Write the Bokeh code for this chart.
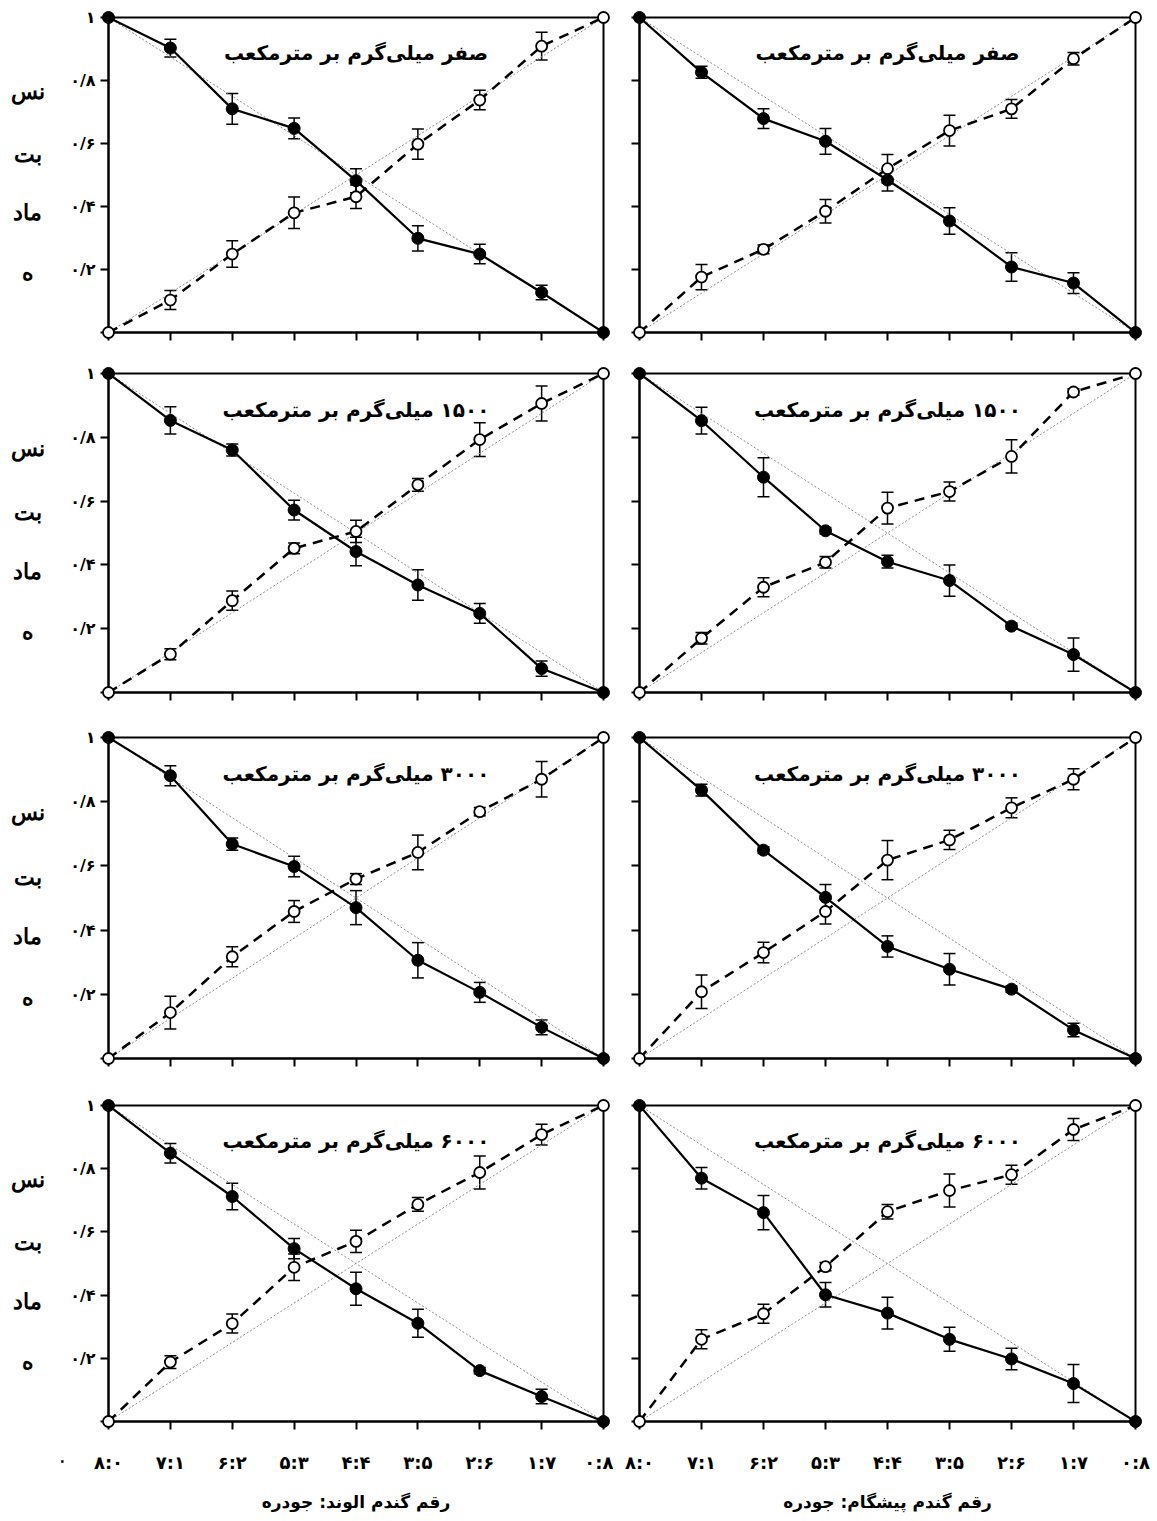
from bokeh.plotting import figure
from bokeh.models import Range1d, FixedTicker, Whisker, TeeHead, ColumnDataSource, Label
from bokeh.layouts import gridplot
from bokeh.embed import file_html
from bokeh.resources import INLINE

# ---------------- data ----------------
ratios = ["۸:۰", "۷:۱", "۶:۲", "۵:۳", "۴:۴", "۳:۵", "۲:۶", "۱:۷", "۰:۸"]
y_ticks = [0, 0.2, 0.4, 0.6, 0.8, 1]
y_tick_labels = ["", "۰/۲", "۰/۴", "۰/۶", "۰/۸", "۱"]
doses = ["صفر", "۱۵۰۰", "۳۰۰۰", "۶۰۰۰"]
unit = "میلی‌گرم بر مترمکعب"
cultivar_titles = ["رقم گندم الوند: جودره", "رقم گندم پیشگام: جودره"]
y_title_parts = ["نس", "بت", "ماد", "ه"]
zero_label = "۰"
diag_x = [0, 8]
diag_up = [0, 1]
diag_down = [1, 0]

# Alvand (left column)
alvand_wheat_0 = [1, 0.903, 0.710, 0.648, 0.482, 0.299, 0.249, 0.127, 0]
alvand_wheat_0_err = [0, 0.028, 0.049, 0.033, 0.038, 0.040, 0.031, 0.023, 0]
alvand_barley_0 = [0, 0.103, 0.249, 0.380, 0.431, 0.598, 0.738, 0.909, 1]
alvand_barley_0_err = [0, 0.030, 0.042, 0.050, 0.037, 0.048, 0.031, 0.044, 0]

alvand_wheat_1500 = [1, 0.853, 0.760, 0.572, 0.442, 0.337, 0.248, 0.075, 0]
alvand_wheat_1500_err = [0, 0.043, 0.019, 0.031, 0.045, 0.048, 0.031, 0.024, 0]
alvand_barley_1500 = [0, 0.120, 0.288, 0.452, 0.505, 0.651, 0.793, 0.906, 1]
alvand_barley_1500_err = [0, 0.017, 0.030, 0.017, 0.035, 0.020, 0.053, 0.055, 0]

alvand_wheat_3000 = [1, 0.881, 0.668, 0.598, 0.470, 0.306, 0.206, 0.097, 0]
alvand_wheat_3000_err = [0, 0.031, 0.019, 0.032, 0.053, 0.055, 0.031, 0.023, 0]
alvand_barley_3000 = [0, 0.143, 0.317, 0.458, 0.559, 0.642, 0.769, 0.870, 1]
alvand_barley_3000_err = [0, 0.051, 0.031, 0.034, 0.017, 0.054, 0.013, 0.055, 0]

alvand_wheat_6000 = [1, 0.849, 0.712, 0.547, 0.420, 0.311, 0.161, 0.079, 0]
alvand_wheat_6000_err = [0, 0.031, 0.042, 0.032, 0.052, 0.044, 0.010, 0.023, 0]
alvand_barley_6000 = [0, 0.188, 0.310, 0.488, 0.570, 0.687, 0.788, 0.908, 1]
alvand_barley_6000_err = [0, 0.020, 0.030, 0.042, 0.035, 0.022, 0.052, 0.033, 0]

# Pishgam (right column)
pishgam_wheat_0 = [1, 0.826, 0.679, 0.607, 0.484, 0.354, 0.208, 0.157, 0]
pishgam_wheat_0_err = [0, 0.019, 0.031, 0.041, 0.035, 0.042, 0.045, 0.033, 0]
pishgam_barley_0 = [0, 0.176, 0.264, 0.385, 0.520, 0.641, 0.710, 0.869, 1]
pishgam_barley_0_err = [0, 0.040, 0.014, 0.037, 0.045, 0.049, 0.030, 0.020, 0]

pishgam_wheat_1500 = [1, 0.852, 0.675, 0.507, 0.410, 0.351, 0.208, 0.119, 0]
pishgam_wheat_1500_err = [0, 0.042, 0.061, 0.010, 0.020, 0.049, 0.010, 0.052, 0]
pishgam_barley_1500 = [0, 0.170, 0.330, 0.408, 0.578, 0.630, 0.740, 0.942, 1]
pishgam_barley_1500_err = [0, 0.018, 0.030, 0.018, 0.050, 0.030, 0.052, 0.010, 0]

pishgam_wheat_3000 = [1, 0.836, 0.649, 0.502, 0.349, 0.278, 0.216, 0.089, 0]
pishgam_wheat_3000_err = [0, 0.018, 0.010, 0.040, 0.033, 0.049, 0.010, 0.021, 0]
pishgam_barley_3000 = [0, 0.208, 0.330, 0.458, 0.618, 0.681, 0.781, 0.870, 1]
pishgam_barley_3000_err = [0, 0.052, 0.032, 0.039, 0.061, 0.030, 0.031, 0.033, 0]

pishgam_wheat_6000 = [1, 0.770, 0.661, 0.401, 0.343, 0.260, 0.198, 0.120, 0]
pishgam_wheat_6000_err = [0, 0.034, 0.054, 0.039, 0.050, 0.038, 0.034, 0.060, 0]
pishgam_barley_6000 = [0, 0.260, 0.341, 0.490, 0.664, 0.731, 0.781, 0.924, 1]
pishgam_barley_6000_err = [0, 0.030, 0.030, 0.013, 0.023, 0.052, 0.030, 0.035, 0]

panels = [
    [(alvand_wheat_0, alvand_wheat_0_err, alvand_barley_0, alvand_barley_0_err),
     (pishgam_wheat_0, pishgam_wheat_0_err, pishgam_barley_0, pishgam_barley_0_err)],
    [(alvand_wheat_1500, alvand_wheat_1500_err, alvand_barley_1500, alvand_barley_1500_err),
     (pishgam_wheat_1500, pishgam_wheat_1500_err, pishgam_barley_1500, pishgam_barley_1500_err)],
    [(alvand_wheat_3000, alvand_wheat_3000_err, alvand_barley_3000, alvand_barley_3000_err),
     (pishgam_wheat_3000, pishgam_wheat_3000_err, pishgam_barley_3000, pishgam_barley_3000_err)],
    [(alvand_wheat_6000, alvand_wheat_6000_err, alvand_barley_6000, alvand_barley_6000_err),
     (pishgam_wheat_6000, pishgam_wheat_6000_err, pishgam_barley_6000, pishgam_barley_6000_err)],
]

# ---------------- layout / style ----------------
FONT = "DejaVu Sans"
RLM = "\u200f"
xs = list(range(len(ratios)))

# per row: (border top, frame height, border bottom)
row_geom = [(17, 315, 23), (18, 319, 23), (22, 321, 22), (25, 323, 86)]
TEXT_W = 67
LEFT_BL, LEFT_BR = 40, 10
RIGHT_BL, RIGHT_BR = 26, 18
FRAME_W = 496
y_title_pos = [0.765, 0.565, 0.38, 0.19]


def text_column(row):
    top, fh, bot = row_geom[row]
    p = figure(width=TEXT_W, height=top + fh + bot, output_backend="svg", toolbar_location=None,
               x_range=Range1d(0, TEXT_W), y_range=Range1d(0, 1),
               x_axis_location=None, y_axis_location=None,
               min_border_left=0, min_border_right=0,
               min_border_top=top, min_border_bottom=bot)
    p.grid.visible = False
    p.outline_line_color = None
    p.background_fill_color = "white"
    p.border_fill_color = "white"
    p.text(x=[27] * len(y_title_parts), y=y_title_pos, text=y_title_parts,
           text_align="center", text_baseline="middle",
           text_font=FONT, text_font_style="bold", text_font_size="22px", text_color="black",
           level="overlay")
    if row == 3:
        p.text(x=[62], y=[-40 / fh], text=[zero_label], text_align="center", text_baseline="middle",
               text_font=FONT, text_font_style="bold", text_font_size="16px", text_color="black",
               level="overlay")
    return p


def make_panel(row, col, wheat, wheat_err, barley, barley_err):
    top, fh, bot = row_geom[row]
    bottom = row == 3
    left = col == 0
    bl, br = (LEFT_BL, LEFT_BR) if left else (RIGHT_BL, RIGHT_BR)
    p = figure(width=bl + FRAME_W + br, height=top + fh + bot, output_backend="svg",
               toolbar_location=None, x_range=Range1d(0, 8), y_range=Range1d(0, 1),
               min_border_left=bl, min_border_right=br,
               min_border_top=top, min_border_bottom=bot)
    p.grid.visible = False
    p.outline_line_color = "black"
    p.outline_line_width = 2
    p.background_fill_color = "white"
    p.border_fill_color = "white"

    p.xaxis.ticker = FixedTicker(ticks=xs)
    p.xaxis.major_label_overrides = {i: (ratios[i] if bottom else "") for i in xs}
    p.yaxis.ticker = FixedTicker(ticks=y_ticks)
    p.yaxis.major_label_overrides = {t: (lab if left else "") for t, lab in zip(y_ticks, y_tick_labels)}
    for ax in (p.xaxis[0], p.yaxis[0]):
        ax.axis_line_width = 2
        ax.axis_line_color = "black"
        ax.major_tick_line_width = 2
        ax.major_tick_line_color = "black"
        ax.major_tick_out = 8
        ax.major_tick_in = 0
        ax.minor_tick_line_color = None
        ax.major_label_text_font = FONT
        ax.major_label_text_font_style = "bold"
        ax.major_label_text_color = "black"
    p.xaxis.major_label_text_font_size = "18px"
    p.xaxis.major_label_standoff = 22
    p.yaxis.major_label_text_font_size = "16px"
    p.yaxis.major_label_standoff = 5
    if bottom:
        p.xaxis.axis_label = cultivar_titles[col]
        p.xaxis.axis_label_text_font = FONT
        p.xaxis.axis_label_text_font_style = "bold"
        p.xaxis.axis_label_text_font_size = "17px"
        p.xaxis.axis_label_text_color = "black"
        p.xaxis.axis_label_standoff = 16

    p.line(diag_x, diag_up, line_color="#8c8c8c", line_width=1, line_dash="2 2")
    p.line(diag_x, diag_down, line_color="#8c8c8c", line_width=1, line_dash="2 2")

    p.line(xs, barley, line_color="black", line_width=2.5, line_dash="10 7")
    p.line(xs, wheat, line_color="black", line_width=2.2)

    for vals, errs in ((wheat, wheat_err), (barley, barley_err)):
        inner = range(1, len(xs) - 1)
        src = ColumnDataSource(dict(
            x=[xs[i] for i in inner],
            upper=[vals[i] + errs[i] for i in inner],
            lower=[vals[i] - errs[i] for i in inner],
        ))
        w = Whisker(source=src, base="x", upper="upper", lower="lower", dimension="height",
                    line_color="black", line_width=1.5,
                    upper_head=TeeHead(size=12, line_width=1.5, line_color="black"),
                    lower_head=TeeHead(size=12, line_width=1.5, line_color="black"))
        p.add_layout(w)

    p.scatter(xs, barley, marker="circle", size=11, fill_color="white", line_color="black",
              line_width=1.8, level="overlay")
    p.scatter(xs, wheat, marker="circle", size=12, fill_color="black", line_color="black",
              line_width=1, level="overlay")

    p.add_layout(Label(x=4, y=0.887, text=RLM + doses[row] + " " + unit,
                       text_align="center", text_baseline="middle",
                       text_font=FONT, text_font_style="bold", text_font_size="20px",
                       text_color="black"))
    return p


grid = []
for r in range(4):
    grid.append([text_column(r)] + [make_panel(r, c, *panels[r][c]) for c in range(2)])

layout = gridplot(grid, toolbar_location=None)

open("out.html", "w").write(file_html(layout, INLINE))
